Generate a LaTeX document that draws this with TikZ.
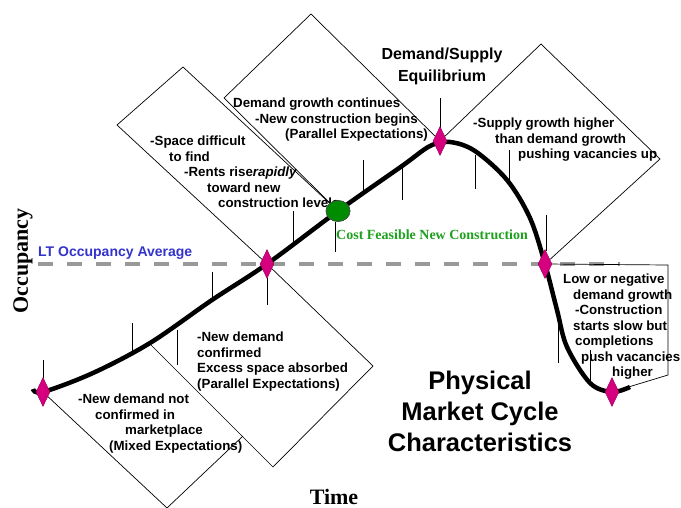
\documentclass[tikz,border=0pt]{standalone}
\usepackage{fontspec}
\setmainfont{Liberation Serif}
\setsansfont{Liberation Sans}
\usetikzlibrary{shapes.geometric}
\definecolor{cyclepink}{RGB}{214,0,127}
\definecolor{ltblue}{RGB}{51,51,204}
\definecolor{costgreen}{RGB}{30,160,30}
\definecolor{dotgreen}{RGB}{0,140,0}
\newcommand{\boxtxt}{\sffamily\bfseries\fontsize{13.3}{15.5}\selectfont}

\begin{document}
\begin{tikzpicture}[x=1pt,y=-1pt,
    frame/.style={draw=black, line width=0.7pt},
    tick/.style={draw=black, line width=0.8pt},
    rhomb/.style={diamond, fill=cyclepink, draw=cyclepink!70!black, line width=0.4pt, inner sep=0pt, minimum width=14pt, minimum height=29pt},
    dot/.style={ellipse, fill=dotgreen, draw=black!70, line width=0.6pt, inner sep=0pt, minimum width=24pt, minimum height=21pt},
    note/.style={anchor=north west, inner sep=0pt, align=left, font=\boxtxt}]
    \useasboundingbox (0,0) rectangle (681,508);

    \draw[black!40, line width=4pt, dash pattern=on 15pt off 14pt] (38,264) -- (620,264);

    \draw[line width=4.5pt] plot[smooth, tension=0.55] coordinates {(33,389) (43,392) (93,373) (150,343) (212,300) (267,264) (338,211) (402,166) (430,146) (450,142) (475,151) (507,180) (530,218) (545,264) (557,310) (567,347) (590,383) (612,392) (630,387)};

    \foreach \x/\ya/\yb in {43/360/378, 132/323/351, 177/330/365, 212/272/300, 267/278/305, 293/211/243, 335/222/252, 363/160/193, 402/167/200, 440/98/128, 475/155/189, 509/150/182, 546/215/251, 558/312/363, 590/350/383}
        \draw[tick] (\x,\ya) -- (\x,\yb);

    \node[rhomb] (d1) at (43,392) {};
    \node[rhomb] (d2) at (267,264) {};
    \node[rhomb] (d3) at (440,141) {};
    \node[rhomb] (d4) at (545,264) {};
    \node[rhomb] (d5) at (612,392) {};
    \node[dot] (feasible) at (338,211) {};

    \draw[frame] (d1) -- (167,508) -- (243,436);
    \draw[frame] (150,344) -- (273,467) -- (373,366) -- (d2);
    \draw[frame] (d2) -- (117,125) -- (183,67) -- (feasible);
    \draw[frame] (feasible) -- (224,98) -- (311,14) -- (d3);
    \draw[frame] (d3) -- (541,44) -- (660,159) -- (d4);
    \draw[frame] (d4) -- (668,265) -- (668,375) -- (d5);

    \node[note] (space) at (150,136) {-Space difficult\\\hspace*{19pt}to find\\\hspace*{34pt}-Rents rise\textit{rapidly}\\\hspace*{57pt}toward new\\\hspace*{68pt}construction levels};
    \node[note] (growth) at (233,98) {Demand growth continues\\\hspace*{22pt}-New construction begins\\\hspace*{52pt}(Parallel Expectations)};
    \node[note] (supply) at (473,118) {-Supply growth higher\\\hspace*{22pt}than demand growth\\\hspace*{45pt}pushing vacancies up};
    \node[note] (lowdem) at (563,274) {Low or negative\\\hspace*{10pt}demand growth\\\hspace*{12pt}-Construction\\\hspace*{10pt}starts slow but\\\hspace*{12pt}completions\\\hspace*{18pt}push vacancies\\\hspace*{49pt}higher};
    \node[note] (confirmed) at (197,332) {-New demand\\confirmed\\Excess space absorbed\\(Parallel Expectations)};
    \node[note] (mixed) at (78,394) {-New demand not\\\hspace*{17pt}confirmed in\\\hspace*{47pt}marketplace\\\hspace*{31pt}(Mixed Expectations)};

    \node[dot] at (feasible) {};

    \node[font=\sffamily\bfseries\fontsize{16}{22}\selectfont, align=center] (equil) at (442,66) {Demand/Supply\\Equilibrium};
    \node[font=\sffamily\bfseries\fontsize{25.5}{31}\selectfont, align=center] (title) at (480,411) {Physical\\Market Cycle\\Characteristics};
    \node[anchor=west, inner sep=0pt, text=ltblue, font=\sffamily\bfseries\fontsize{14}{16}\selectfont] (ltavg) at (38,253) {LT Occupancy Average};
    \node[anchor=west, inner sep=0pt, text=costgreen, font=\bfseries\fontsize{14}{16}\selectfont] (cost) at (336,235) {Cost Feasible New Construction};
    \node[rotate=90, font=\bfseries\fontsize{22}{24}\selectfont] (occ) at (23,261) {Occupancy};
    \node[font=\bfseries\fontsize{22}{24}\selectfont] (time) at (334,497) {Time};
\end{tikzpicture}
\end{document}
